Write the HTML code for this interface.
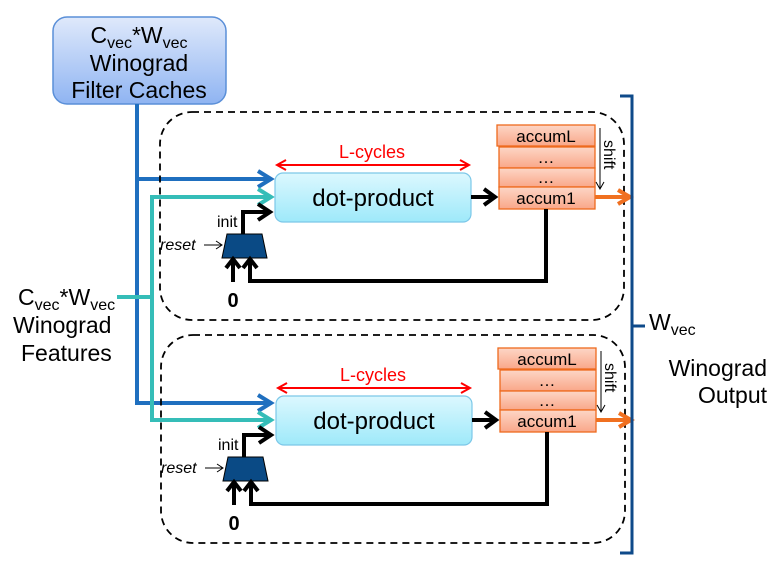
<!DOCTYPE html>
<html><head><meta charset="utf-8"><style>
html,body{margin:0;padding:0;background:#fff;}
svg{display:block;font-family:"Liberation Sans",sans-serif;}
</style></head><body>
<svg width="772" height="570" viewBox="0 0 772 570" xmlns="http://www.w3.org/2000/svg">
<defs>
<linearGradient id="gb" x1="0" y1="0" x2="0" y2="1"><stop offset="0" stop-color="#dfe9fb"/><stop offset="1" stop-color="#8fb4f2"/></linearGradient>
<linearGradient id="gc" x1="0" y1="0" x2="0" y2="1"><stop offset="0" stop-color="#dcf8fe"/><stop offset="1" stop-color="#9ee9fa"/></linearGradient>
<linearGradient id="go" x1="0" y1="0" x2="0" y2="1"><stop offset="0" stop-color="#fdd6c6"/><stop offset="1" stop-color="#f9a789"/></linearGradient>
</defs>
<rect x="53" y="17" width="173" height="87" rx="14" fill="url(#gb)" stroke="#5a8fd8" stroke-width="1.5"/>
<text x="139" y="43" font-size="23" text-anchor="middle">C<tspan font-size="16" dy="5">vec</tspan><tspan dy="-5">*W</tspan><tspan font-size="16" dy="5">vec</tspan></text>
<text x="139" y="71" font-size="23" text-anchor="middle">Winograd</text>
<text x="139" y="98" font-size="23" text-anchor="middle">Filter Caches</text>

<text x="18" y="305" font-size="23">C<tspan font-size="16" dy="5">vec</tspan><tspan dy="-5">*W</tspan><tspan font-size="16" dy="5">vec</tspan></text>
<text x="13" y="333" font-size="23">Winograd</text>
<text x="21" y="361" font-size="23">Features</text>

<polyline points="137,104 137,403 268,403" fill="none" stroke="#1f6fbf" stroke-width="4"/>
<line x1="137" y1="179" x2="268" y2="179" stroke="#1f6fbf" stroke-width="4"/>
<polyline points="258,171 271,179 258,187" fill="none" stroke="#1f6fbf" stroke-width="4"/>
<polyline points="258,395 271,403 258,411" fill="none" stroke="#1f6fbf" stroke-width="4"/>
<polyline points="117,297 152,297" fill="none" stroke="#35bdb8" stroke-width="4"/>
<polyline points="268,197 152,197 152,420 268,420" fill="none" stroke="#35bdb8" stroke-width="4"/>
<polyline points="258,189 271,197 258,205" fill="none" stroke="#35bdb8" stroke-width="4"/>
<polyline points="258,412 271,420 258,428" fill="none" stroke="#35bdb8" stroke-width="4"/>

<g id="m">
<rect x="160" y="112" width="464" height="208" rx="32" fill="none" stroke="#000" stroke-width="1.8" stroke-dasharray="7,5"/>
<line x1="278" y1="165" x2="468" y2="165" stroke="#f00" stroke-width="2"/>
<polyline points="286,160 277,165 286,170" fill="none" stroke="#f00" stroke-width="2"/>
<polyline points="460,160 469,165 460,170" fill="none" stroke="#f00" stroke-width="2"/>
<text x="372" y="158" font-size="18" fill="#f00" text-anchor="middle">L-cycles</text>
<rect x="275" y="173" width="196" height="49" rx="8" fill="url(#gc)" stroke="#7cc7e8" stroke-width="1.2"/>
<text x="373" y="206" font-size="24" text-anchor="middle">dot-product</text>
<line x1="471" y1="197" x2="494" y2="197" stroke="#000" stroke-width="4"/>
<polyline points="484,189 495,197 484,205" fill="none" stroke="#000" stroke-width="4"/>
<rect x="497" y="125" width="98" height="21" fill="url(#go)" stroke="#ee6a1e" stroke-width="1.3"/>
<rect x="499" y="147" width="96" height="21" fill="url(#go)" stroke="#ee6a1e" stroke-width="1.3"/>
<rect x="499" y="168" width="96" height="19" fill="url(#go)" stroke="#ee6a1e" stroke-width="1.3"/>
<rect x="499" y="187" width="96" height="22" fill="url(#go)" stroke="#ee6a1e" stroke-width="1.3"/>
<text x="546" y="142" font-size="17" text-anchor="middle">accumL</text>
<text x="546" y="163" font-size="17" text-anchor="middle">…</text>
<text x="546" y="183" font-size="17" text-anchor="middle">…</text>
<text x="546" y="204" font-size="17" text-anchor="middle">accum1</text>
<line x1="600" y1="128" x2="600" y2="189" stroke="#000" stroke-width="1"/>
<polyline points="596,182 600,189 604,182" fill="none" stroke="#000" stroke-width="1"/>
<text x="0" y="0" font-size="16" transform="translate(604,140) rotate(90)">shift</text>
<line x1="595" y1="197" x2="628" y2="197" stroke="#f07020" stroke-width="4"/>
<polyline points="618,190 630,197 618,204" fill="none" stroke="#f07020" stroke-width="4"/>
<polygon points="227,234 262,234 267,258 222,258" fill="#0a4a85" stroke="#000" stroke-width="1"/>
<polyline points="243,234 243,212 268,212" fill="none" stroke="#000" stroke-width="4"/>
<polyline points="258,204 270,212 258,220" fill="none" stroke="#000" stroke-width="4"/>
<text x="217" y="227" font-size="16">init</text>
<text x="160" y="250" font-size="16" font-style="italic">reset</text>
<line x1="204" y1="245" x2="222" y2="245" stroke="#000" stroke-width="1"/>
<polyline points="216,241 222,245 216,249" fill="none" stroke="#000" stroke-width="1"/>
<line x1="233" y1="282" x2="233" y2="260" stroke="#000" stroke-width="4"/>
<polyline points="226,268 233,259 240,268" fill="none" stroke="#000" stroke-width="4"/>
<polyline points="546,209 546,281 250,281 250,260" fill="none" stroke="#000" stroke-width="4"/>
<polyline points="243,268 250,259 257,268" fill="none" stroke="#000" stroke-width="4"/>
<text x="233" y="307" font-size="20" font-weight="bold" text-anchor="middle">0</text>
</g>
<use href="#m" transform="translate(1,223)"/>

<polyline points="620,96 632,96 632,553 620,553" fill="none" stroke="#0e4a8a" stroke-width="3"/>
<line x1="632" y1="326" x2="645" y2="326" stroke="#0e4a8a" stroke-width="3"/>
<text x="649" y="330" font-size="23">W<tspan font-size="16" dy="5">vec</tspan></text>
<text x="767" y="376" font-size="23" text-anchor="end">Winograd</text>
<text x="767" y="403" font-size="23" text-anchor="end">Output</text>
</svg>
</body></html>
